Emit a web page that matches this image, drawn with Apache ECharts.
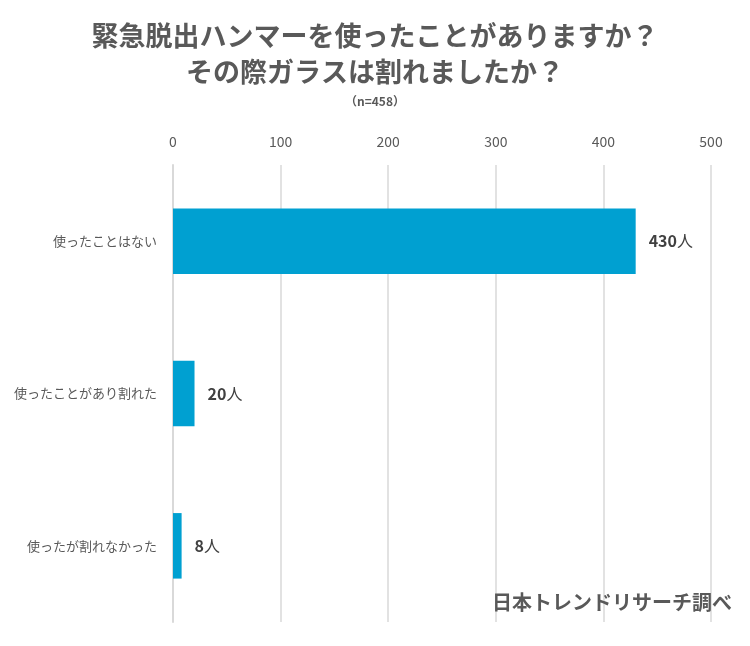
<!DOCTYPE html>
<html>
<head>
<meta charset="utf-8">
<script src="https://cdn.jsdelivr.net/npm/echarts@6/dist/echarts.min.js"></script>
<style>
  html, body { margin: 0; padding: 0; background: #fff; }
  #chart { width: 750px; height: 646px; }
</style>
</head>
<body>
<div id="chart"></div>
<script>
var categories = ['使ったことはない', '使ったことがあり割れた', '使ったが割れなかった'];
var counts = [430, 20, 8];
var xTicks = [0, 100, 200, 300, 400, 500];

var font = '"Noto Sans CJK JP", "Noto Sans", sans-serif';
var myChart = echarts.init(document.getElementById('chart'));

var option = {
    backgroundColor: '#ffffff',
    animation: false,
    textStyle: { fontFamily: font },
    title: [
        {
            text: '緊急脱出ハンマーを使ったことがありますか？\nその際ガラスは割れましたか？',
            left: 'center',
            top: 13,
            textStyle: { fontSize: 27, fontWeight: 'bold', color: '#595959', lineHeight: 36, fontFamily: font }
        },
        {
            text: '（n=458）',
            left: 'center',
            top: 90,
            textStyle: { fontSize: 12, fontWeight: 'bold', color: '#595959', fontFamily: font }
        },
        {
            text: '日本トレンドリサーチ調べ',
            right: 13,
            top: 587,
            textStyle: { fontSize: 20, fontWeight: 'bold', color: '#595959', fontFamily: font }
        }
    ],
    grid: { left: 173, right: 39, top: 165, bottom: 24, containLabel: false },
    xAxis: {
        type: 'value',
        position: 'top',
        min: xTicks[0],
        max: xTicks[xTicks.length - 1],
        interval: 100,
        axisLine: { show: false },
        axisTick: { show: false },
        axisLabel: { color: '#595959', fontSize: 14, margin: 16, fontFamily: font },
        splitLine: { show: true, lineStyle: { color: '#d9d9d9', width: 1.5 } }
    },
    yAxis: {
        type: 'category',
        data: categories,
        inverse: true,
        axisLine: { show: true, lineStyle: { color: '#d9d9d9', width: 2 } },
        axisTick: { show: false },
        axisLabel: { color: '#595959', fontSize: 13, margin: 16, fontFamily: font }
    },
    series: [{
        type: 'bar',
        data: counts,
        barWidth: '43%',
        itemStyle: { color: '#00a0d1' },
        label: {
            show: true,
            position: 'right',
            distance: 13,
            formatter: function (p) { return '{n|' + p.value + '}{u|人}'; },
            rich: {
                n: { fontSize: 16, fontWeight: 'bold', color: '#404040', fontFamily: font },
                u: { fontSize: 16, color: '#404040', fontFamily: font }
            }
        }
    }]
};

myChart.setOption(option);
</script>
</body>
</html>
